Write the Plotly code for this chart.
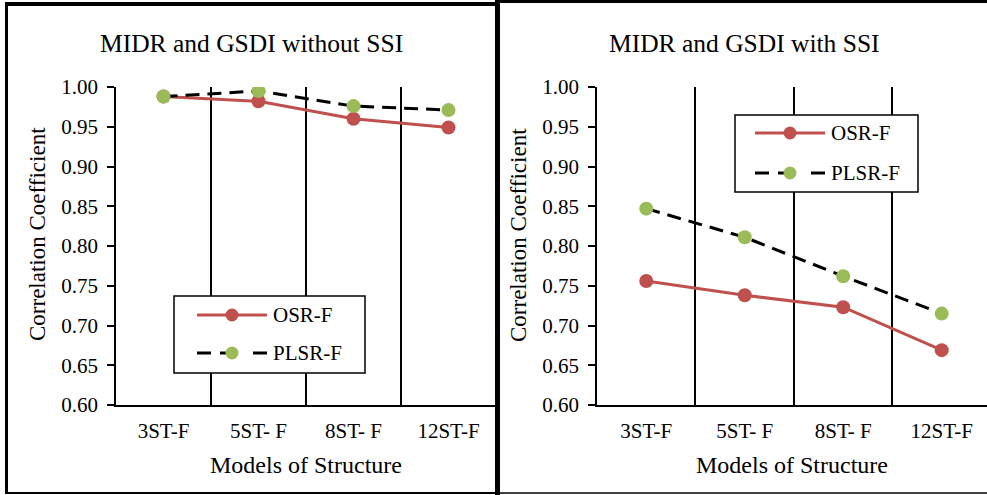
import plotly.graph_objects as go

# Structure models on the category axis
categories = ["3ST-F", "5ST- F", "8ST- F", "12ST-F"]

# Correlation coefficients, MIDR and GSDI without SSI
osr_without = [0.988, 0.982, 0.960, 0.949]
plsr_without = [0.988, 0.995, 0.976, 0.971]

# Correlation coefficients, MIDR and GSDI with SSI
osr_with = [0.756, 0.738, 0.723, 0.669]
plsr_with = [0.847, 0.811, 0.762, 0.715]

y_ticks = [0.60, 0.65, 0.70, 0.75, 0.80, 0.85, 0.90, 0.95, 1.00]

W, H = 987, 495
FONT = "Liberation Serif"
RED = "#C0504D"
GREEN = "#9BBB59"
DASH = "14px,8px"


def px_x(p):
    return p / W


def px_y(p):
    return 1 - p / H


fig = go.Figure()


def add_pair(osr, plsr, xa, ya):
    fig.add_trace(go.Scatter(
        x=categories, y=osr, name="OSR-F", mode="lines+markers",
        line=dict(color=RED, width=3), marker=dict(color=RED, size=14),
        xaxis=xa, yaxis=ya, showlegend=False))
    fig.add_trace(go.Scatter(
        x=categories, y=plsr, name="PLSR-F", mode="lines+markers",
        line=dict(color="black", width=3, dash=DASH),
        marker=dict(color=GREEN, size=14),
        xaxis=xa, yaxis=ya, showlegend=False))


add_pair(osr_without, plsr_without, "x", "y")
add_pair(osr_with, plsr_with, "x2", "y2")

y_dom = [px_y(405), px_y(87)]

xcommon = dict(
    type="category", categoryorder="array", categoryarray=categories,
    tickson="boundaries", showgrid=True, gridcolor="black", gridwidth=1.5,
    showline=True, linecolor="black", linewidth=1.5, ticks="",
    tickfont=dict(family=FONT, size=21, color="black"), zeroline=False,
    automargin=False, ticklabelstandoff=6,
)
ycommon = dict(
    range=[0.60, 1.00], tickvals=y_ticks, tickformat=".2f",
    showgrid=False, showline=True, linecolor="black", linewidth=1.5,
    ticks="outside", ticklen=7, tickcolor="black", tickwidth=1.5,
    tickfont=dict(family=FONT, size=21, color="black"), zeroline=False,
    domain=y_dom, automargin=False, ticklabelstandoff=5,
)

fig.update_layout(
    template="none",
    font=dict(family=FONT, color="black"),
    width=W, height=H, autosize=False,
    margin=dict(l=0, r=0, t=0, b=0, pad=0, autoexpand=False),
    paper_bgcolor="white", plot_bgcolor="white",
    showlegend=False,
    xaxis=dict(xcommon, domain=[px_x(116), px_x(496)], range=[-0.5, 3.5],
               anchor="y"),
    yaxis=dict(ycommon, anchor="x"),
    xaxis2=dict(xcommon, domain=[px_x(597), 1.0], range=[-0.5, 3.46],
                anchor="y2"),
    yaxis2=dict(ycommon, anchor="x2"),
)

# Panel titles and axis titles
texts = [
    ("MIDR and GSDI without SSI", 252, 43, 25.5, 0),
    ("MIDR and GSDI with SSI", 744, 43, 25.5, 0),
    ("Models of Structure", 306, 465, 24, 0),
    ("Models of Structure", 792, 465, 24, 0),
    ("Correlation Coefficient", 38, 234, 23, -90),
    ("Correlation Coefficient", 519, 235, 23, -90),
]
for t, x, y, s, ang in texts:
    fig.add_annotation(
        text=t, x=px_x(x), y=px_y(y), xref="paper", yref="paper",
        showarrow=False, textangle=ang, xanchor="center", yanchor="middle",
        font=dict(family=FONT, size=s, color="black"))


# Legend boxes drawn with shapes and text
def add_legend(bx0, by0, bx1, by1, lx0, lx1, ya, yb, tx):
    fig.add_shape(type="rect", xref="paper", yref="paper", layer="above",
                  x0=px_x(bx0), x1=px_x(bx1), y0=px_y(by1), y1=px_y(by0),
                  fillcolor="white", line=dict(color="black", width=1.5))
    mid = (lx0 + lx1) / 2
    fig.add_shape(type="line", xref="paper", yref="paper", layer="above",
                  x0=px_x(lx0), x1=px_x(lx1), y0=px_y(ya), y1=px_y(ya),
                  line=dict(color=RED, width=3))
    for a, b in [(lx0, lx0 + 14), (mid - 12, mid), (lx1 - 14, lx1)]:
        fig.add_shape(type="line", xref="paper", yref="paper", layer="above",
                      x0=px_x(a), x1=px_x(b), y0=px_y(yb), y1=px_y(yb),
                      line=dict(color="black", width=3))
    for yy, col in [(ya, RED), (yb, GREEN)]:
        fig.add_shape(type="circle", xref="paper", yref="paper",
                      layer="above", xsizemode="pixel", ysizemode="pixel",
                      xanchor=px_x(mid), yanchor=px_y(yy),
                      x0=-6.5, x1=6.5, y0=-6.5, y1=6.5,
                      fillcolor=col, line=dict(color=col, width=0))
    for yy, label in [(ya, "OSR-F"), (yb, "PLSR-F")]:
        fig.add_annotation(
            text=label, x=px_x(tx), y=px_y(yy), xref="paper", yref="paper",
            showarrow=False, xanchor="left", yanchor="middle",
            font=dict(family=FONT, size=21, color="black"))


add_legend(174, 296, 365, 373, 197, 267, 315, 353, 271)
add_legend(735, 115, 918, 192, 755, 825, 133, 173, 829)

# Panel frames
frame = dict(type="line", xref="paper", yref="paper")
for x0, y0, x1, y1, w in [
    (6.5, 4, 6.5, 493, 3),      # left panel, left edge
    (5, 4, 497, 4, 4),          # left panel, top edge
    (5, 493, 497, 493, 2),      # left panel, bottom edge
    (497.5, 0, 497.5, 495, 5),  # divider between panels
    (497, 1.5, 987, 1.5, 3),    # right panel, top edge
    (497, 493, 987, 493, 1.5),  # right panel, bottom edge
]:
    fig.add_shape(frame, x0=px_x(x0), y0=px_y(y0), x1=px_x(x1), y1=px_y(y1),
                  line=dict(color="black", width=w))

fig.write_html("out.html")
